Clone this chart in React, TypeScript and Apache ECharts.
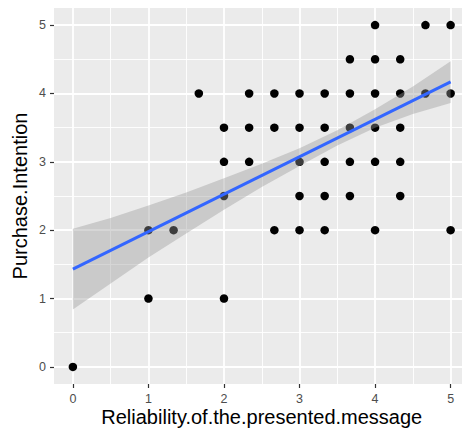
import React, { useEffect, useRef } from "react";
import * as echarts from "echarts";

const pointX = [
  4, 4.667, 5,
  3.667, 4, 4.333,
  1.667, 2.333, 2.667, 3, 3.333, 3.667, 4, 4.333, 4.667, 5,
  2, 2.333, 2.667, 3, 3.333, 3.667, 4, 4.333,
  2, 2.333, 3, 3.333, 3.667, 4, 4.333,
  2, 3, 3.333, 3.667, 4.333,
  1, 1.333, 2.667, 3, 3.333, 4, 5,
  1, 2,
  0,
];
const pointY = [
  5, 5, 5,
  4.5, 4.5, 4.5,
  4, 4, 4, 4, 4, 4, 4, 4, 4, 4,
  3.5, 3.5, 3.5, 3.5, 3.5, 3.5, 3.5, 3.5,
  3, 3, 3, 3, 3, 3, 3,
  2.5, 2.5, 2.5, 2.5, 2.5,
  2, 2, 2, 2, 2, 2, 2,
  1, 1,
  0,
];

const fitX = [0, 5];
const fitY = [1.43, 4.17];

const bandX = [0, 0.5, 1, 1.5, 2, 2.5, 3, 3.5, 4, 4.5, 5];
const bandUpper = [2.02, 2.18, 2.36, 2.55, 2.76, 2.97, 3.2, 3.46, 3.77, 4.1, 4.47];
const bandLower = [0.84, 1.22, 1.6, 1.95, 2.3, 2.63, 2.94, 3.24, 3.5, 3.7, 3.86];

const majorTicks = [0, 1, 2, 3, 4, 5];
const minorTicks = [0.5, 1.5, 2.5, 3.5, 4.5];

const xTitle = "Reliability.of.the.presented.message";
const yTitle = "Purchase.Intention";

const FONT = "Liberation Sans, Arial, Helvetica, sans-serif";

export default function App() {
  const ref = useRef<HTMLDivElement>(null);

  useEffect(() => {
    if (!ref.current) return;
    const chart = echarts.init(ref.current, null, { renderer: "svg" });

    const majorAxis = (isX: boolean) => ({
      type: "value",
      min: -0.25,
      max: 5.25,
      position: isX ? "bottom" : "left",
      name: isX ? xTitle : yTitle,
      nameLocation: "middle",
      nameGap: isX ? 23 : 24.5,
      nameMoveOverlap: false,
      nameTextStyle: { color: "#000000", fontSize: 20, fontFamily: FONT },
      axisLine: { show: false, onZero: false },
      axisTick: {
        show: true,
        customValues: majorTicks,
        length: 4,
        lineStyle: { color: "#333333", width: 1.2 },
      },
      axisLabel: {
        show: true,
        customValues: majorTicks,
        color: "#4D4D4D",
        fontSize: 12.5,
        fontFamily: FONT,
        margin: 8,
      },
      splitLine: { show: true, lineStyle: { color: "#FFFFFF", width: 1.8 } },
      minorSplitLine: { show: false },
    });

    const minorAxis = (isX: boolean) => ({
      type: "value",
      min: -0.25,
      max: 5.25,
      position: isX ? "top" : "right",
      axisLine: { show: false, onZero: false },
      axisTick: { show: false, customValues: minorTicks },
      axisLabel: { show: false, customValues: minorTicks },
      splitLine: { show: true, lineStyle: { color: "#FFFFFF", width: 0.9 } },
    });

    const scatterData = pointX.map((x, i) => [x, pointY[i]]);
    const fitData = fitX.map((x, i) => [x, fitY[i]]);
    const bandData = bandX.map((x, i) => [x, bandUpper[i], bandLower[i]]);

    chart.setOption({
      animation: false,
      backgroundColor: "#FFFFFF",
      grid: {
        show: true,
        left: 54,
        top: 8,
        width: 415.5,
        height: 376,
        outerBoundsMode: "none",
        containLabel: false,
        backgroundColor: "#EBEBEB",
        borderWidth: 0,
      },
      xAxis: [majorAxis(true), minorAxis(true)],
      yAxis: [majorAxis(false), minorAxis(false)],
      series: [
        {
          type: "scatter",
          xAxisIndex: 0,
          yAxisIndex: 0,
          data: scatterData,
          symbol: "circle",
          symbolSize: 8.5,
          itemStyle: { color: "#000000", opacity: 1 },
          z: 3,
        },
        {
          type: "custom",
          xAxisIndex: 0,
          yAxisIndex: 0,
          data: bandData,
          encode: { x: 0, y: [1, 2] },
          z: 4,
          renderItem: (params: any, api: any) => {
            if (params.dataIndex !== 0) return null;
            const pts: number[][] = [];
            for (let i = 0; i < bandX.length; i++) {
              pts.push(api.coord([bandX[i], bandUpper[i]]));
            }
            for (let i = bandX.length - 1; i >= 0; i--) {
              pts.push(api.coord([bandX[i], bandLower[i]]));
            }
            return {
              type: "polygon",
              shape: { points: pts },
              style: { fill: "rgba(153,153,153,0.4)", stroke: "none" },
            };
          },
        },
        {
          type: "line",
          xAxisIndex: 0,
          yAxisIndex: 0,
          data: fitData,
          showSymbol: false,
          symbol: "none",
          lineStyle: { color: "#3366FF", width: 3 },
          z: 5,
        },
      ],
    });

    return () => {
      chart.dispose();
    };
  }, []);

  return (
    <div
      ref={ref}
      style={{ position: "fixed", left: 0, top: 0, width: 462, height: 429, background: "#FFFFFF" }}
    />
  );
}
